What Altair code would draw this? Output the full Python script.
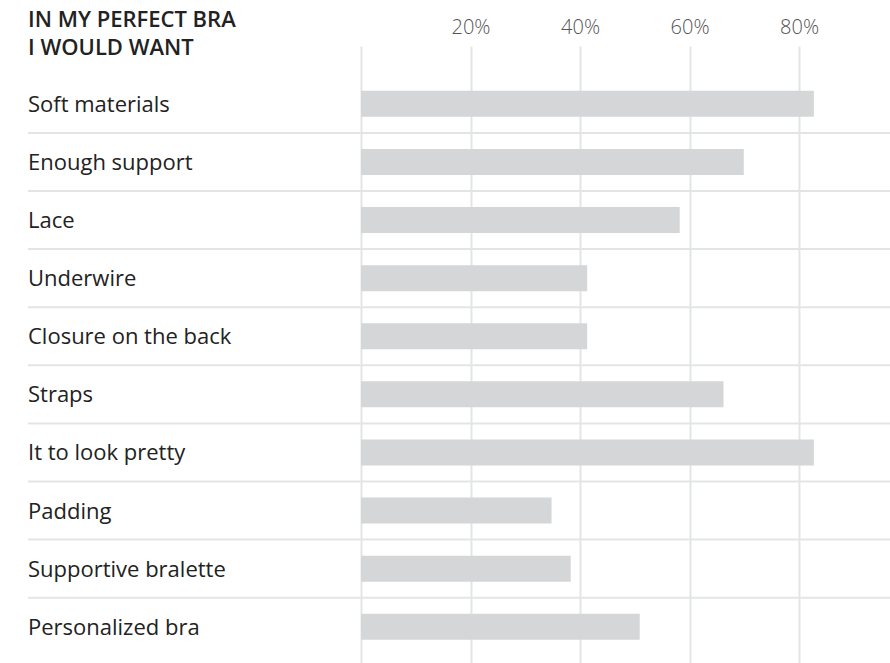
import altair as alt
import pandas as pd

categories = [
    "Soft materials", "Enough support", "Lace", "Underwire",
    "Closure on the back", "Straps", "It to look pretty", "Padding",
    "Supportive bralette", "Personalized bra",
]
values = [82.7, 69.9, 58.2, 41.3, 41.3, 66.2, 82.7, 34.8, 38.3, 50.9]
tick_values = [0, 20, 40, 60, 80]
title_lines = ["IN MY PERFECT BRA", "I WOULD WANT"]

df = pd.DataFrame({"cat": categories, "val": values})
sep_df = pd.DataFrame({"cat": categories[:-1]})

FONT = "Open Sans"
GRID = "#e3e5e5"

yscale = alt.Scale(domain=categories, paddingInner=0, paddingOuter=0.31, align=0.8)
xscale = alt.Scale(domain=[0, 96.6], nice=False, zero=True)

bars = alt.Chart(df).mark_bar(height=26, color="#d5d6d8").encode(
    x=alt.X("val:Q", scale=xscale, axis=alt.Axis(
        orient="top", values=tick_values, title=None, domain=False, ticks=False,
        grid=True, gridColor=GRID, gridWidth=2,
        labelExpr="datum.value == 0 ? '' : datum.value + '%'",
        labelFont=FONT, labelFontSize=20, labelFontWeight=300, labelColor="#555555",
        labelBaseline="alphabetic", labelPadding=13,
    )),
    y=alt.Y("cat:N", scale=yscale, sort=categories, axis=None),
)

seps = alt.Chart(sep_df).mark_rule(color=GRID, strokeWidth=2).encode(
    y=alt.Y("cat:N", scale=yscale, sort=categories, bandPosition=1, axis=None),
    x=alt.value(-333),
    x2=alt.value(529),
)

labels = alt.Chart(df).mark_text(
    align="left", baseline="alphabetic", font=FONT, fontSize=22, color="#222222", dy=8
).encode(
    y=alt.Y("cat:N", scale=yscale, sort=categories, axis=None),
    x=alt.value(-333),
    text="cat:N",
)

title = alt.Chart(pd.DataFrame({"t": [0]})).mark_text(
    align="left", baseline="alphabetic", font=FONT, fontSize=22, fontWeight=600,
    color="#222222", text=title_lines, lineHeight=27.7,
).encode(
    x=alt.value(-333),
    y=alt.value(-18.7),
)

chart = alt.layer(seps, bars, labels, title).properties(
    width=529, height=617,
    autosize=alt.AutoSizeParams(type="none"),
    padding={"left": 361, "top": 46, "right": 0, "bottom": 0},
).configure_view(stroke=None)

chart.save("out.html", embed_options={"renderer": "svg", "actions": False})
